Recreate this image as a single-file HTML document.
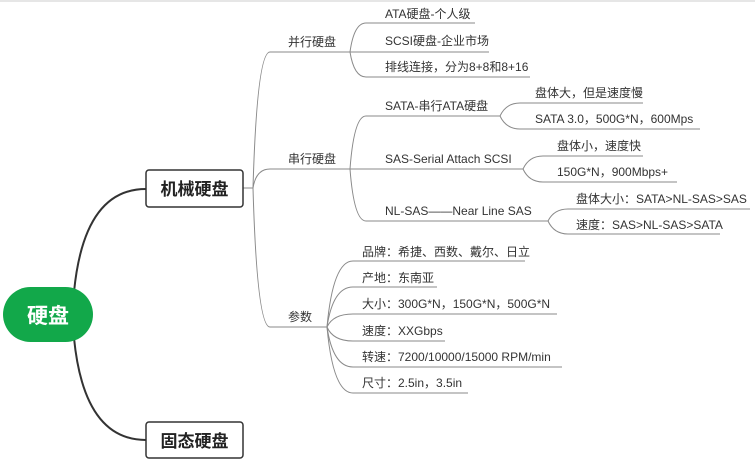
<!DOCTYPE html>
<html><head><meta charset="utf-8"><style>
html,body{margin:0;padding:0;background:#fff;}
svg{display:block}
text{font-family:"Liberation Sans","Noto Sans CJK SC",sans-serif;font-size:12px;fill:#333}
.b{font-size:17px;font-weight:bold;fill:#222}
</style></head><body>
<svg width="755" height="459" viewBox="0 0 755 459" xmlns="http://www.w3.org/2000/svg">
<line x1="0" y1="1" x2="755" y2="1" stroke="#e6e6e6" stroke-width="2"/>
<!-- root curves -->
<g fill="none" stroke="#333" stroke-width="2">
<path d="M74 292 Q84 189 146 189"/>
<path d="M74 338 Q84 440 146 440"/>
</g>
<g fill="none" stroke="#8a8a8a" stroke-width="1">
<!-- level2 -->
<path d="M243 188 H253"/>
<path d="M253 188 Q257 52 270 52 H350"/>
<path d="M253 188 Q256 169 270 169 H350"/>
<path d="M253 188 Q257 327 270 327 H327"/>
<!-- parallel children -->
<path d="M350 52 Q354 23 366 23 H475"/>
<path d="M350 52 H489"/>
<path d="M350 52 Q354 77 366 77 H530"/>
<!-- serial children -->
<path d="M350 169 Q354 116 366 116 H500"/>
<path d="M350 169 H523"/>
<path d="M350 169 Q354 221 366 221 H548"/>
<!-- SATA -->
<path d="M500 116 Q506 103 520 103 H643"/>
<path d="M500 116 Q506 129 520 129 H700"/>
<!-- SAS -->
<path d="M523 169 Q529 156 543 156 H643"/>
<path d="M523 169 Q529 182 543 182 H677"/>
<!-- NL -->
<path d="M548 221 Q554 209 568 209 H750"/>
<path d="M548 221 Q554 234 568 234 H720"/>
<!-- params -->
<path d="M327 327 Q333 261 353 261 H525"/>
<path d="M327 327 Q333 287 353 287 H437"/>
<path d="M327 327 Q333 314 353 314 H557"/>
<path d="M327 327 Q333 341 353 341 H445"/>
<path d="M327 327 Q333 367 353 367 H562"/>
<path d="M327 327 Q333 393 353 393 H468"/>
</g>
<!-- root -->
<rect x="3" y="287" width="90" height="55" rx="27.5" fill="#12a84a"/>
<text x="48" y="323" text-anchor="middle" style="font-size:21px;font-weight:bold;fill:#fff">硬盘</text>
<rect x="146" y="170" width="97" height="37" rx="3" fill="#fff" stroke="#333" stroke-width="1.5"/>
<text class="b" x="194.5" y="195" text-anchor="middle">机械硬盘</text>
<rect x="146" y="422" width="97" height="36" rx="3" fill="#fff" stroke="#333" stroke-width="1.5"/>
<text class="b" x="194.5" y="447" text-anchor="middle">固态硬盘</text>
<!-- labels -->
<text x="288" y="46">并行硬盘</text>
<text x="288" y="163">串行硬盘</text>
<text x="288" y="321">参数</text>
<text x="385" y="18">ATA硬盘-个人级</text>
<text x="385" y="45">SCSI硬盘-企业市场</text>
<text x="385" y="71">排线连接，分为8+8和8+16</text>
<text x="385" y="110">SATA-串行ATA硬盘</text>
<text x="385" y="163">SAS-Serial Attach SCSI</text>
<text x="385" y="215">NL-SAS——Near Line SAS</text>
<text x="535" y="97">盘体大，但是速度慢</text>
<text x="535" y="123">SATA 3.0，500G*N，600Mps</text>
<text x="557" y="150">盘体小，速度快</text>
<text x="557" y="176">150G*N，900Mbps+</text>
<text x="576" y="203">盘体大小：SATA&gt;NL-SAS&gt;SAS</text>
<text x="576" y="229">速度：SAS&gt;NL-SAS&gt;SATA</text>
<text x="362" y="256">品牌：希捷、西数、戴尔、日立</text>
<text x="362" y="282">产地：东南亚</text>
<text x="362" y="308">大小：300G*N，150G*N，500G*N</text>
<text x="362" y="335">速度：XXGbps</text>
<text x="362" y="361">转速：7200/10000/15000 RPM/min</text>
<text x="362" y="387">尺寸：2.5in，3.5in</text>
</svg>
</body></html>
